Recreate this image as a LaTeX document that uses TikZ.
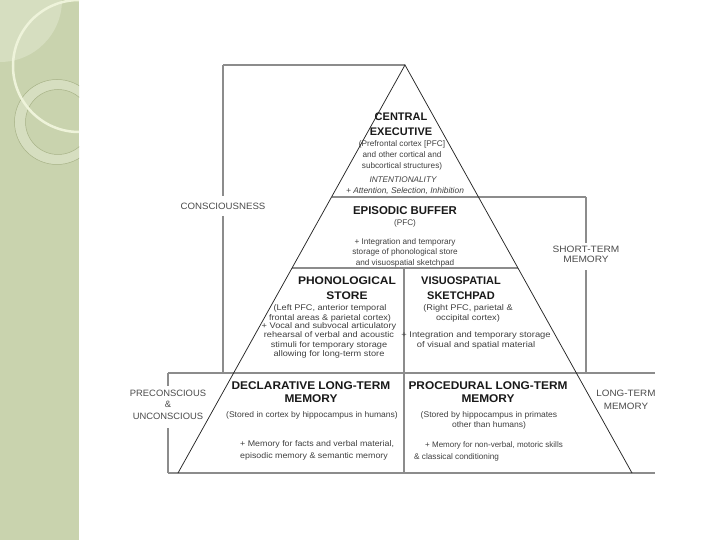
\documentclass[tikz,border=0pt]{standalone}
\usepackage{fontspec}
\usepackage{graphicx}
\setmainfont{Liberation Sans}
\definecolor{strip}{HTML}{C9D3AE}
\definecolor{stripl}{HTML}{D6DEC0}
\definecolor{stripw}{HTML}{EEF3DA}
\definecolor{stripd}{HTML}{A7B287}
\newcommand{\wide}[2]{\scalebox{#1}[1]{\begin{tabular}{@{}c@{}}#2\end{tabular}}}
\begin{document}
\begin{tikzpicture}[x=1pt,y=-1pt,
  gline/.style={draw=black!45,line width=1.3pt},
  pyr/.style={draw=black!85,line width=0.75pt},
  ttl/.style={font=\fontsize{11}{15}\selectfont\bfseries,align=center,inner sep=0pt,text=black!90},
  sml/.style={font=\fontsize{8.2}{10}\selectfont,align=center,inner sep=0pt,text=black!75},
  side/.style={font=\fontsize{9.5}{11.5}\selectfont,align=center,inner sep=0pt,text=black!70}]
\useasboundingbox (0,0) rectangle (720,540);
\fill[white] (0,0) rectangle (720,540);
% decorative strip
\begin{scope}
  \clip (0,0) rectangle (79,540);
  \fill[strip] (0,0) rectangle (79,540);
  \fill[stripl] (0,0) circle (62);
  \fill[stripl,even odd rule] (57,122) circle (42.5) (58,122) circle (32.5);
  \draw[stripd,line width=0.5pt] (57,122) circle (42.5);
  \draw[stripd,line width=0.5pt] (58,122) circle (32.5);
  \draw[stripw,line width=2.5pt] (79,66) circle (66);
\end{scope}
% coordinates
\coordinate (apex) at (405,65);
\coordinate (bl) at (178,473);
\coordinate (br) at (632,473);
\coordinate (tl) at (223,65);
\coordinate (c1) at (223,196);
\coordinate (c2) at (223,216);
\coordinate (c3) at (223,373);
\coordinate (e1) at (331.6,197);
\coordinate (e2) at (586,197);
\coordinate (s1) at (586,243);
\coordinate (s2) at (586,270);
\coordinate (s3) at (586,373);
\coordinate (b1) at (292,268);
\coordinate (b2) at (518,268);
\coordinate (d1) at (404,268);
\coordinate (d2) at (404,473);
\coordinate (h1) at (168,373);
\coordinate (h2) at (655,373);
\coordinate (g1) at (168,473);
\coordinate (g2) at (655,473);
\coordinate (p1) at (168,386);
\coordinate (p2) at (168,428);
% grey lines
\draw[gline] (tl) -- (apex);
\draw[gline] (tl) -- (c1);
\draw[gline] (c2) -- (c3);
\draw[gline] (e1) -- (e2);
\draw[gline] (e2) -- (s1);
\draw[gline] (s2) -- (s3);
\draw[gline] (b1) -- (b2);
\draw[gline] (d1) -- (d2);
\draw[gline] (h1) -- (h2);
\draw[gline] (g1) -- (g2);
\draw[gline] (h1) -- (p1);
\draw[gline] (p2) -- (g1);
% pyramid
\draw[pyr] (bl) -- (apex) -- (br);
% central executive
\node[ttl] (ce) at (401,124.5) {CENTRAL\\EXECUTIVE};
\node[sml,font=\fontsize{8.2}{11}\selectfont] (ce2) at (402,155) {(Prefrontal cortex [PFC]\\and other cortical and\\subcortical structures)};
\node[sml,font=\fontsize{8.2}{10}\selectfont\itshape] (ce3) at (403,180) {INTENTIONALITY};
\node[sml,font=\fontsize{8.4}{10}\selectfont\itshape] (ce4) at (405,191) {+ Attention, Selection, Inhibition};
% episodic buffer
\node[ttl,font=\fontsize{11.4}{15}\selectfont\bfseries] (eb) at (405,211) {EPISODIC BUFFER};
\node[sml] (eb2) at (405,223) {(PFC)};
\node[sml,font=\fontsize{8.2}{10.5}\selectfont] (eb3) at (405,252.5) {+ Integration and temporary\\storage of phonological store\\and visuospatial sketchpad};
% phonological store
\node[ttl,font=\fontsize{11}{15}\selectfont\bfseries] (ps) at (347,288.5) {\wide{1.09}{PHONOLOGICAL\\STORE}};
\node[sml,font=\fontsize{8.2}{10}\selectfont] (ps2) at (330,313) {\wide{1.11}{(Left PFC, anterior temporal\\frontal areas \& parietal cortex)}};
\node[sml,font=\fontsize{8.2}{9.4}\selectfont] (ps3) at (329,340.5) {\wide{1.12}{+ Vocal and subvocal articulatory\\rehearsal of verbal and acoustic\\stimuli for temporary storage\\allowing for long-term store}};
% visuospatial sketchpad
\node[ttl] (vs) at (461,288.5) {VISUOSPATIAL\\SKETCHPAD};
\node[sml,font=\fontsize{8.2}{10}\selectfont] (vs2) at (468,313) {\wide{1.12}{(Right PFC, parietal \&\\occipital cortex)}};
\node[sml,font=\fontsize{8.3}{9.6}\selectfont] (vs3) at (476,340.5) {\wide{1.13}{+ Integration and temporary storage\\of visual and spatial material}};
% declarative
\node[ttl,font=\fontsize{11.2}{13}\selectfont\bfseries] (dl) at (311,393.5) {\wide{1.06}{DECLARATIVE LONG-TERM\\MEMORY}};
\node[sml,font=\fontsize{8.2}{10}\selectfont] (dl2) at (312,415) {\wide{1.04}{(Stored in cortex by hippocampus in humans)}};
\node[sml,anchor=west,font=\fontsize{8.2}{12}\selectfont] (dl3) at (240,450) {\scalebox{1.08}[1]{\begin{tabular}{@{}l@{}}+ Memory for facts and verbal material,\\episodic memory \& semantic memory\end{tabular}}};
% procedural
\node[ttl,font=\fontsize{11.2}{13}\selectfont\bfseries] (pl) at (488,393.5) {\wide{1.06}{PROCEDURAL LONG-TERM\\MEMORY}};
\node[sml,font=\fontsize{8.2}{10.5}\selectfont] (pl2) at (489,420.5) {\wide{1.04}{(Stored by hippocampus in primates\\other than humans)}};
\node[sml,anchor=west,font=\fontsize{8}{10}\selectfont] (pl3) at (425,445) {+ Memory for non-verbal, motoric skills};
\node[sml,anchor=west,font=\fontsize{8.2}{10}\selectfont] (pl4) at (414,457) {\& classical conditioning};
% side labels
\node[side,font=\fontsize{9.2}{11.5}\selectfont] (cons) at (223,207) {\wide{1.05}{CONSCIOUSNESS}};
\node[side,font=\fontsize{9.2}{10.5}\selectfont] (stm) at (586,255.5) {\wide{1.1}{SHORT-TERM\\MEMORY}};
\node[side,font=\fontsize{9.2}{13}\selectfont] (ltm) at (626,400.5) {\wide{1.07}{LONG-TERM\\MEMORY}};
\node[side,font=\fontsize{9.2}{11.5}\selectfont] (pre) at (168,405.5) {\wide{1.02}{PRECONSCIOUS\\\&\\UNCONSCIOUS}};
\end{tikzpicture}
\end{document}
